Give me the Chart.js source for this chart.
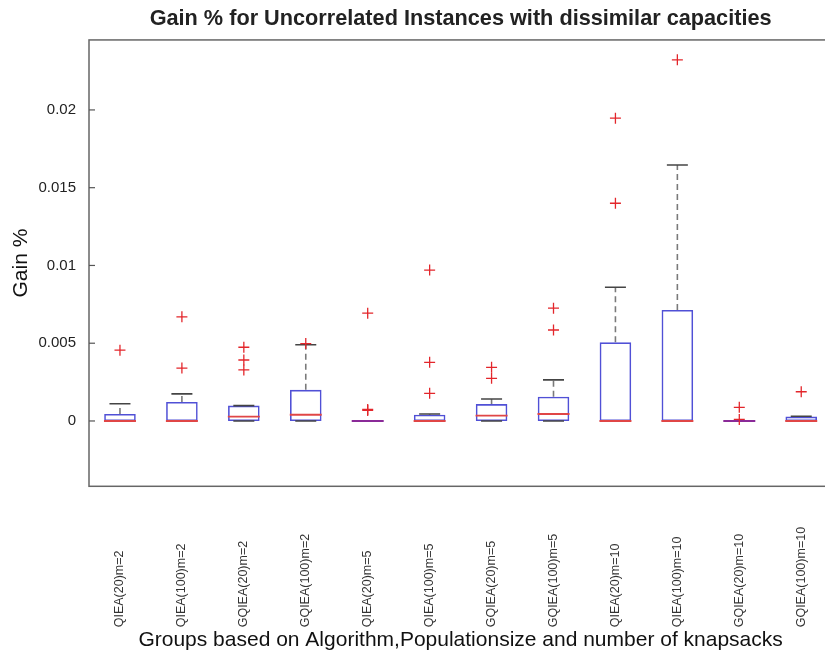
<!DOCTYPE html>
<html><head><meta charset="utf-8">
<script src="https://cdn.jsdelivr.net/npm/chart.js@4.4.0/dist/chart.umd.min.js"></script>
<style>
html,body{margin:0;padding:0;background:#fff;overflow:hidden}
#wrap{position:relative;width:850px;height:654px}
</style>
</head><body><div id="wrap"><canvas id="c"></canvas></div>
<script>
const categories = ['QIEA(20)m=2','QIEA(100)m=2','GQIEA(20)m=2','GQIEA(100)m=2','QIEA(20)m=5','QIEA(100)m=5','GQIEA(20)m=5','GQIEA(100)m=5','QIEA(20)m=10','QIEA(100)m=10','GQIEA(20)m=10','GQIEA(100)m=10'];
const lowerQuartile = [0,0,0,0,0,0,0,0,0,0,0,0];
const upperQuartile = [0.00045,0.00122,0.00099,0.0020,0,0.0004,0.00109,0.00156,0.00506,0.00714,0,0.00028];
const medians = [0,0,0.00028,0.0004,0,0,0.00034,0.00045,0,0,0,0];
const whiskerLow = [0,0,0,0,0,0,0,0,0,0,0,0];
const whiskerHigh = [0.00111,0.00174,0.00099,0.0049,0,0.00045,0.00141,0.00264,0.0086,0.01646,0,0.0003];
const outliers = [
  [0.00455],
  [0.0067,0.0034],
  [0.00474,0.00392,0.00328],
  [0.00498],
  [0.00693,0.00068,0.00074],
  [0.0097,0.00377,0.00178],
  [0.00345,0.00274],
  [0.00725,0.00585],
  [0.01947,0.014],
  [0.02322],
  [0.00088,0.0001],
  [0.00188]
];
const yTickValues = [0,0.005,0.01,0.015,0.02];
const yTickLabels = ['0','0.005','0.01','0.015','0.02'];
const yRange = [-0.0042,0.0245];

const FONT = '"Liberation Sans", Arial, sans-serif';
const pos = categories.map((c,i)=>i+1);

const boxData = pos.map((x,i)=>({x:x, y:[lowerQuartile[i], upperQuartile[i]]}));
const medianData = pos.map((x,i)=>({x:x, y:medians[i]}));
const medianColors = pos.map((x,i)=> upperQuartile[i]===lowerQuartile[i] ? '#8a2a98' : '#e04646');
const capData = [];
pos.forEach((x,i)=>{capData.push({x:x,y:whiskerLow[i]}); capData.push({x:x,y:whiskerHigh[i]});});
const whiskerData = [];
pos.forEach((x,i)=>{
  whiskerData.push({x:x,y:upperQuartile[i]}); whiskerData.push({x:x,y:whiskerHigh[i]}); whiskerData.push({x:x,y:null});
  whiskerData.push({x:x,y:lowerQuartile[i]}); whiskerData.push({x:x,y:whiskerLow[i]}); whiskerData.push({x:x,y:null});
});
const outlierData = [];
pos.forEach((x,i)=>outliers[i].forEach(v=>outlierData.push({x:x,y:v})));

const framePlugin = {
  id:'frame',
  afterDraw(chart){
    const {ctx, chartArea:a, scales:{x,y}} = chart;
    ctx.save();
    ctx.strokeStyle='#666'; ctx.lineWidth=1.5;
    ctx.strokeRect(a.left, a.top, a.right-a.left, a.bottom-a.top);
    ctx.lineWidth=1.2; ctx.strokeStyle='#555';
    yTickValues.forEach(v=>{const py=y.getPixelForValue(v); ctx.beginPath(); ctx.moveTo(a.left,py); ctx.lineTo(a.left+6,py); ctx.stroke();});
    ctx.font='12.5px '+FONT; ctx.fillStyle='#333'; ctx.textAlign='left'; ctx.textBaseline='middle';
    categories.forEach((c,i)=>{
      const px=x.getPixelForValue(pos[i]);
      ctx.save(); ctx.translate(px, a.bottom+141); ctx.rotate(-Math.PI/2); ctx.fillText(c,0,0); ctx.restore();
    });
    ctx.restore();
  }
};

new Chart(document.getElementById('c'), {
  type:'bar',
  data:{datasets:[
    {type:'scatter', data:outlierData, pointStyle:'cross', pointRadius:5.5, pointHoverRadius:5.5, borderColor:'#e3262b', backgroundColor:'#e3262b', borderWidth:1.3, order:0},
    {type:'scatter', data:medianData, pointStyle:'line', pointRadius:16, pointHoverRadius:16, borderColor:medianColors, pointBorderColor:medianColors, borderWidth:1.8, order:1},
    {type:'scatter', data:capData, pointStyle:'line', pointRadius:10.5, pointHoverRadius:10.5, borderColor:'#444', borderWidth:1.6, order:2},
    {type:'bar', data:boxData, backgroundColor:'rgba(0,0,0,0)', borderColor:'#5050d6', borderWidth:1.6, borderSkipped:false, barPercentage:0.51, categoryPercentage:1.0, order:3},
    {type:'line', data:whiskerData, borderColor:'#7a7a7a', borderWidth:1.6, borderDash:[6,4], pointRadius:0, spanGaps:false, fill:false, order:4}
  ]},
  options:{
    responsive:true, maintainAspectRatio:false, animation:false,
    layout:{padding:{left:0,right:14,top:0,bottom:0}},
    plugins:{
      legend:{display:false}, tooltip:{enabled:false},
      title:{display:true, fullSize:false, text:'Gain % for Uncorrelated Instances with dissimilar capacities', color:'#222',
        font:{family:FONT, size:21.7, weight:'bold'}, padding:{top:6.3,bottom:7.6}}
    },
    scales:{
      x:{type:'linear', min:0.5, max:12.5, offset:false,
        grid:{display:false, drawTicks:false}, border:{display:false},
        ticks:{display:false},
        title:{display:true, text:'Groups based on Algorithm,Populationsize and number of knapsacks', color:'#111',
          font:{family:FONT, size:21}, padding:{top:141, bottom:1.5}}},
      y:{type:'linear', min:yRange[0], max:yRange[1],
        grid:{display:false, drawTicks:false}, border:{display:false},
        afterBuildTicks(s){ s.ticks = yTickValues.map(v=>({value:v})); },
        afterFit(s){ s.width = 89; },
        ticks:{color:'#222', font:{family:FONT, size:15}, padding:13,
          callback:(v,i)=>yTickLabels[i]},
        title:{display:true, text:'Gain %', color:'#111', font:{family:FONT, size:21}, padding:{top:8.4,bottom:4}}}
    }
  },
  plugins:[framePlugin]
});
</script>
</body></html>
